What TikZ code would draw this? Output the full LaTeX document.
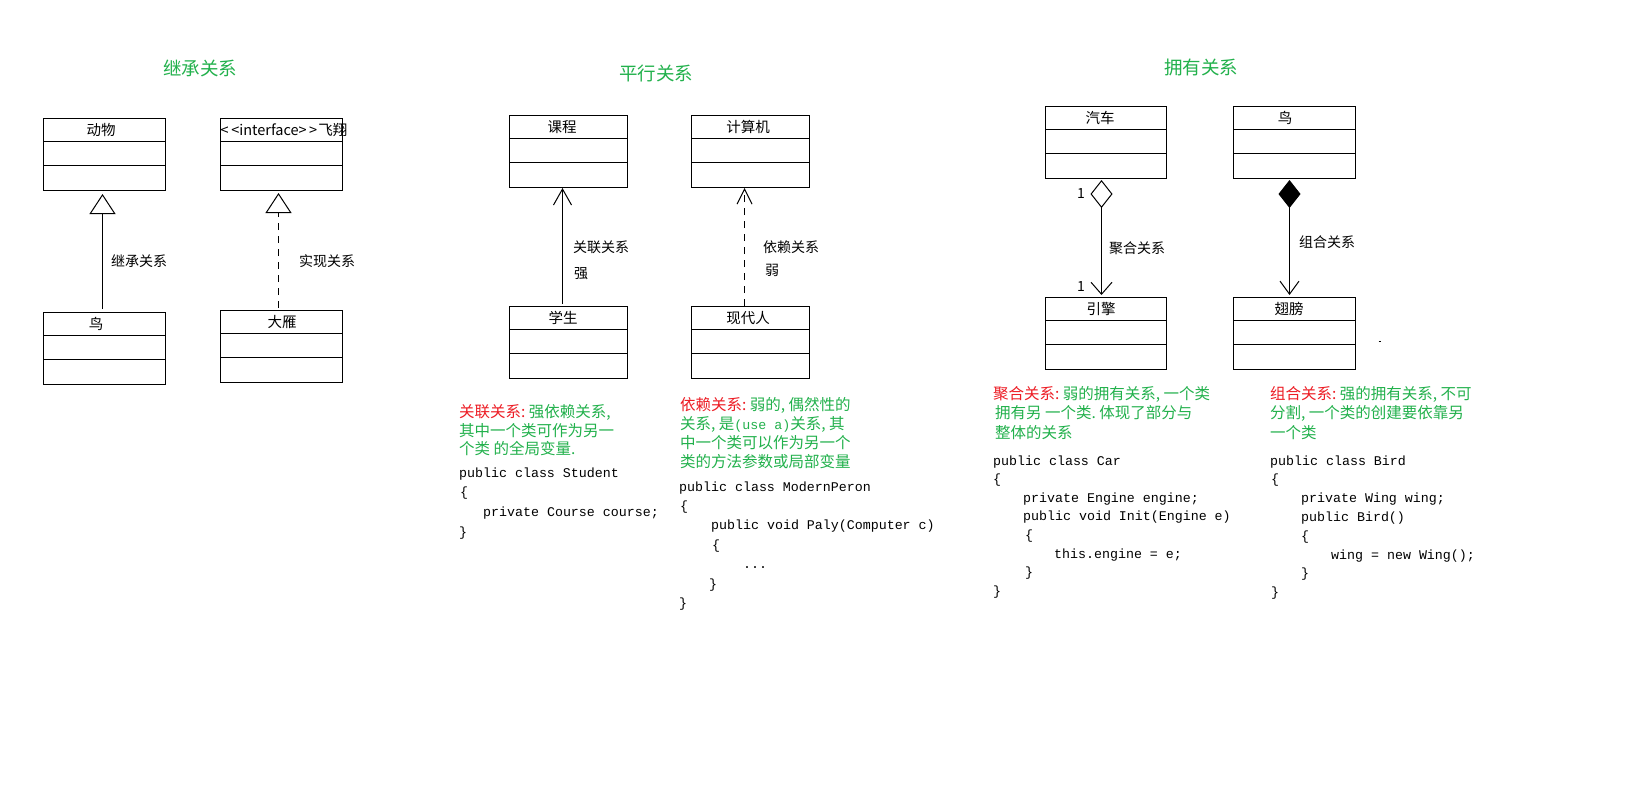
\documentclass[tikz,border=0pt]{standalone}
\usepackage{fontspec}
\setmainfont[Ligatures=NoCommon]{Noto Sans CJK SC}
\newfontfamily\codefont{Liberation Mono}
\usetikzlibrary{arrows.meta,calc}
\definecolor{tgreen}{RGB}{34,177,76}
\definecolor{tred}{RGB}{237,28,36}
\newcommand{\hw}[1]{\makebox[0.5em][l]{#1}}
\newcommand{\asc}[1]{{\codefont\fontsize{13.3}{19}\selectfont #1}}
\newcommand{\umlcls}[6]{%
  \node[clsbox, minimum width=#4pt, anchor=north west] (#1) at (#2,#3) {};
  \node[clsname] (#1-t) at (#5,{#3+12}) {#6};
  \draw[cls] ([yshift=-23pt]#1.north west) -- ([yshift=-23pt]#1.north east);
  \draw[cls] ([yshift=-47pt]#1.north west) -- ([yshift=-47pt]#1.north east);
}
\begin{document}
\begin{tikzpicture}[x=1pt,y=-1pt,
  cls/.style={line width=1pt},
  clsbox/.style={draw, line width=1pt, inner sep=0pt, minimum height=72pt},
  clsname/.style={font=\fontsize{14.5}{16}\selectfont, inner sep=0pt},
  lbl/.style={font=\fontsize{14}{16}\selectfont, inner sep=0pt, anchor=west},
  ttl/.style={font=\fontsize{18.5}{20}\selectfont, text=tgreen, inner sep=0pt},
  note/.style={font=\fontsize{15.5}{19}\selectfont, inner sep=0pt, anchor=base west, text=tgreen},
  code/.style={font=\codefont\fontsize{13.3}{16}\selectfont, inner sep=0pt, anchor=base west},
  conn/.style={line width=1pt},
  dep/.style={dash pattern=on 7pt off 6pt}]
\useasboundingbox[fill=white] (0,0) rectangle (1645,809);

% titles
\node[ttl] (t1) at (200,68) {继承关系};
\node[ttl] (t2) at (656,73) {平行关系};
\node[ttl] (t3) at (1201,67) {拥有关系};

% classes
\umlcls{animal}{43}{118}{122}{101}{动物}
\umlcls{fly}{220}{118}{122}{284}{<\hspace{2.5pt}<interface>\hspace{2.5pt}>\hspace{1pt}飞翔}
\umlcls{birdA}{43}{312}{122}{96}{鸟}
\umlcls{goose}{220}{310}{122}{282}{大雁}
\umlcls{course}{509}{115}{118}{562}{课程}
\umlcls{computer}{691}{115}{118}{748}{计算机}
\umlcls{student}{509}{306}{118}{563}{学生}
\umlcls{modern}{691}{306}{118}{748}{现代人}
\umlcls{car}{1045}{106}{121}{1100}{汽车}
\umlcls{birdB}{1233}{106}{122}{1285}{鸟}
\umlcls{engine}{1045}{297}{121}{1101}{引擎}
\umlcls{wing}{1233}{297}{122}{1289}{翅膀}

% connectors
\draw[conn, -{Triangle[open,length=20pt,width=26pt]}, shorten <=3pt, shorten >=3pt]
  ([xshift=-2pt]birdA.north) -- ([xshift=-2pt]animal.south);
\draw[conn, dep, -{Triangle[open,length=20pt,width=26pt]}, shorten <=2pt, shorten >=2pt]
  ([xshift=-3pt]goose.north) -- ([xshift=-3pt]fly.south);
\draw[conn, -{Straight Barb[length=16pt,width=18pt]}, shorten <=2pt]
  ([xshift=-6pt]student.north) -- ([xshift=-6pt]course.south);
\draw[conn, dep, -{Straight Barb[length=15pt,width=15pt]}]
  ([xshift=-6pt]modern.north) -- ([xshift=-6pt]computer.south);
\draw[conn, {Diamond[open,length=28pt,width=22pt]}-{Straight Barb[length=12pt,width=21pt]}, shorten <=1pt, shorten >=2pt]
  ([xshift=-4.5pt]car.south) -- ([xshift=-4.5pt]engine.north);
\draw[conn, {Diamond[length=28pt,width=22pt]}-{Straight Barb[length=13pt,width=19pt]}, shorten <=1pt, shorten >=2pt]
  ([xshift=-5pt]birdB.south) -- ([xshift=-5pt]wing.north);

% connector labels
\node[lbl] (l1) at (111,261) {继承关系};
\node[lbl] (l2) at (299,261) {实现关系};
\node[lbl] (l3) at (573,247) {关联关系};
\node[lbl] (l3b) at (574,274) {强};
\node[lbl] (l4) at (763,247) {依赖关系};
\node[lbl] (l4b) at (765,270) {弱};
\node[lbl] (l5) at (1109,248) {聚合关系};
\node[lbl] (l6) at (1299,242) {组合关系};
\node[lbl] (m1) at (1077,194) {1};
\node[lbl] (m2) at (1077,287) {1};
\draw[line width=1pt] (1378.5,341) -- (1380.5,341);

% notes
\node[note] (n1a) at (459,417.5) {\textcolor{tred}{关联关系\hw{:}}强依赖关系\hw{,}};
\node[note] (n1b) at (459,436) {其中一个类可作为另一};
\node[note] (n1c) at (459,454) {个类 的全局变量\hw{.}};

\node[note] (n2a) at (680,410.7) {\textcolor{tred}{依赖关系\hw{:}}弱的\hw{,}偶然性的};
\node[note] (n2b) at (680,429.7) {关系\hw{,}是\asc{(use a)}关系\hw{,}其};
\node[note] (n2c) at (680,448.7) {中一个类可以作为另一个};
\node[note] (n2d) at (680,467.7) {类的方法参数或局部变量};

\node[note] (n3a) at (993,399.7) {\textcolor{tred}{聚合关系\hw{:}}弱的拥有关系\hw{,}一个类};
\node[note] (n3b) at (995,418.7) {拥有另 一个类\hw{.}体现了部分与};
\node[note] (n3c) at (995,438.7) {整体的关系};

\node[note] (n4a) at (1270,399.7) {\textcolor{tred}{组合关系\hw{:}}强的拥有关系\hw{,}不可};
\node[note] (n4b) at (1270,418.7) {分割\hw{,}一个类的创建要依靠另};
\node[note] (n4c) at (1270,438.7) {一个类};

% code: Student
\node[code] (s1) at (459,477) {public class Student};
\node[code] (s2) at (460,496.7) {\{};
\node[code] (s3) at (483,516.4) {private Course course;};
\node[code] (s4) at (459,536) {\}};

% code: ModernPeron
\node[code] (p1) at (679,491) {public class ModernPeron};
\node[code] (p2) at (680,510.4) {\{};
\node[code] (p3) at (711,529.8) {public void Paly(Computer c)};
\node[code] (p4) at (712,549.2) {\{};
\node[code] (p5) at (743,568.6) {...};
\node[code] (p6) at (709,588) {\}};
\node[code] (p7) at (679,607.4) {\}};

% code: Car
\node[code] (c1) at (993,465) {public class Car};
\node[code] (c2) at (993,483.6) {\{};
\node[code] (c3) at (1023,502.3) {private Engine engine;};
\node[code] (c4) at (1023,520.9) {public void Init(Engine e)};
\node[code] (c5) at (1025,539.6) {\{};
\node[code] (c6) at (1054,558.2) {this.engine = e;};
\node[code] (c7) at (1025,576.9) {\}};
\node[code] (c8) at (993,595.5) {\}};

% code: Bird
\node[code] (b1) at (1270,465) {public class Bird};
\node[code] (b2) at (1271,483.8) {\{};
\node[code] (b3) at (1301,502.6) {private Wing wing;};
\node[code] (b4) at (1301,521.4) {public Bird()};
\node[code] (b5) at (1301,540.2) {\{};
\node[code] (b6) at (1331,559) {wing = new Wing();};
\node[code] (b7) at (1301,577.8) {\}};
\node[code] (b8) at (1271,596.5) {\}};
\end{tikzpicture}
\end{document}
